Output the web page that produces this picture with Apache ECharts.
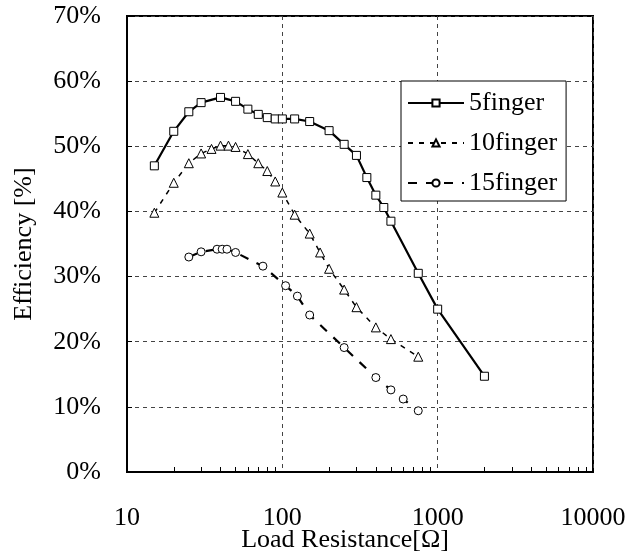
<!DOCTYPE html>
<html>
<head>
<meta charset="utf-8">
<script src="https://cdn.jsdelivr.net/npm/echarts@6/dist/echarts.min.js"></script>
<style>html,body{margin:0;padding:0;background:#fff}#c{width:630px;height:556px}</style>
</head>
<body>
<div id="c"></div>
<script>
const seriesNames = ['5finger', '10finger', '15finger'];
const x5 = [15,20,25,30,40,50,60,70,80,90,100,120,150,200,250,300,350,400,450,500,750,1000,2000];
const y5 = [47.0,52.3,55.3,56.7,57.5,56.9,55.7,54.9,54.4,54.2,54.2,54.2,53.8,52.4,50.3,48.6,45.2,42.5,40.6,38.5,30.5,25.0,14.7];
const x10 = [15,20,25,30,35,40,45,50,60,70,80,90,100,120,150,175,200,250,300,400,500,750];
const y10 = [39.8,44.4,47.4,48.9,49.6,50.1,50.1,49.9,48.8,47.4,46.2,44.6,42.9,39.5,36.6,33.7,31.2,28.0,25.3,22.2,20.4,17.7];
const x15 = [25,30,38,41,44,50,75,105,125,150,250,400,500,600,750];
const y15 = [33.0,33.8,34.2,34.2,34.2,33.7,31.6,28.6,27.0,24.1,19.1,14.5,12.6,11.2,9.4];
const xTickLabels = [10, 100, 1000, 10000];
const minorTicks = [20,30,40,50,60,70,80,90,200,300,400,500,600,700,800,900,2000,3000,4000,5000,6000,7000,8000,9000];

const pair = (xs, ys) => xs.map((v, i) => [v, ys[i]]);
const font = 'Liberation Serif';

const chart = echarts.init(document.getElementById('c'));
chart.setOption({
  animation: false,
  backgroundColor: '#fff',
  grid: { left: 127, right: 37, top: 16, bottom: 84, show: true, borderColor: '#000', borderWidth: 2, containLabel: false, outerBoundsMode: 'none' },
  legend: {
    data: seriesNames,
    orient: 'vertical',
    left: 401, top: 81,
    backgroundColor: '#fff',
    borderColor: '#000', borderWidth: 1,
    padding: [9, 9, 5, 6],
    itemWidth: 56, itemHeight: 9, itemGap: 14,
    textStyle: { fontFamily: font, fontSize: 26, color: '#000' }
  },
  xAxis: [{
    type: 'log', logBase: 10, min: 10, max: 10000,
    name: 'Load Resistance[Ω]', nameLocation: 'middle', nameGap: 68, nameMoveOverlap: false,
    nameTextStyle: { fontFamily: font, fontSize: 26, color: '#000', padding: [0, 30, 0, 0], verticalAlign: 'middle' },
    axisLine: { show: true, lineStyle: { color: '#000', width: 2 } },
    axisTick: { show: false },
    axisLabel: { fontFamily: font, fontSize: 26, color: '#000', margin: 33, customValues: xTickLabels, formatter: v => String(Math.round(v)) },
    splitLine: { show: true, lineStyle: { color: '#444', type: [4, 4], width: 1 } }
  }, {
    type: 'log', logBase: 10, min: 10, max: 10000, position: 'bottom',
    axisLine: { show: false },
    axisTick: { show: true, inside: true, length: 5, lineStyle: { color: '#000', width: 1 }, customValues: minorTicks },
    axisLabel: { show: false },
    splitLine: { show: false }
  }],
  yAxis: {
    type: 'value', min: 0, max: 70, interval: 10,
    name: 'Efficiency [%]', nameLocation: 'middle', nameGap: 103, nameMoveOverlap: false,
    nameTextStyle: { fontFamily: font, fontSize: 26, color: '#000', verticalAlign: 'middle' },
    axisLine: { show: true, lineStyle: { color: '#000', width: 2 } },
    axisTick: { show: true, inside: true, length: 5, lineStyle: { color: '#000' } },
    axisLabel: { fontFamily: font, fontSize: 26, color: '#000', margin: 26, formatter: '{value}%' },
    splitLine: { show: true, lineStyle: { color: '#444', type: [4, 4], width: 1 } }
  },
  series: [{
    name: seriesNames[0], type: 'line', data: pair(x5, y5),
    symbol: 'rect', symbolSize: 8, showAllSymbol: true,
    lineStyle: { color: '#000', width: 2.2, type: 'solid' },
    itemStyle: { color: '#fff', borderColor: '#000', borderWidth: 1 }
  }, {
    name: seriesNames[1], type: 'line', data: pair(x10, y10),
    symbol: 'triangle', symbolSize: 9, showAllSymbol: true,
    lineStyle: { color: '#000', width: 1.5, type: [5, 6] },
    itemStyle: { color: '#fff', borderColor: '#000', borderWidth: 1 }
  }, {
    name: seriesNames[2], type: 'line', data: pair(x15, y15),
    symbol: 'circle', symbolSize: 8, showAllSymbol: true,
    lineStyle: { color: '#000', width: 2.2, type: [9, 9] },
    itemStyle: { color: '#fff', borderColor: '#000', borderWidth: 1 }
  }]
});
</script>
</body>
</html>
